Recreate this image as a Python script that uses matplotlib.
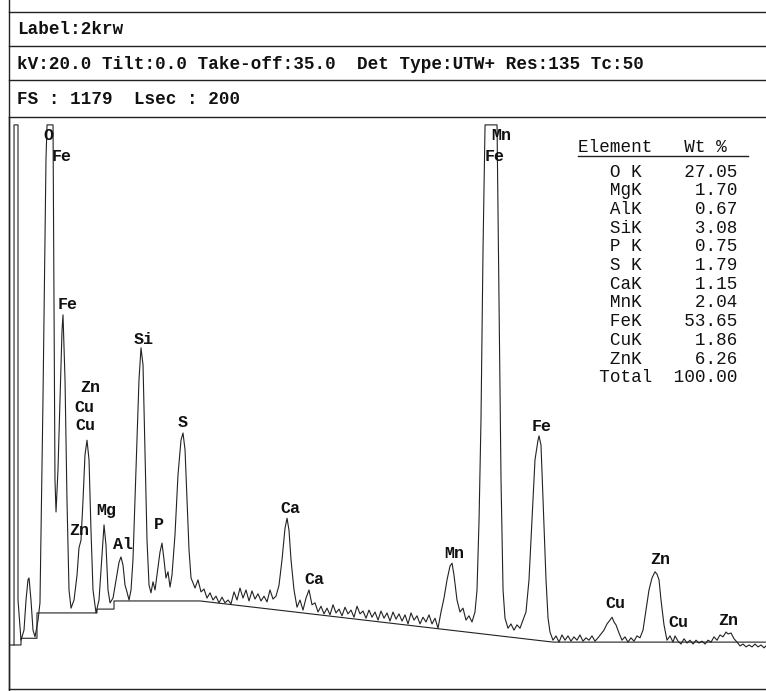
import matplotlib
matplotlib.use("Agg")
from matplotlib import pyplot as plt

# spectrum trace (energy in keV, counts)
energy_kev = [0.067, 0.067, 0.12, 0.12, 0.16, 0.20, 0.227, 0.253, 0.267, 0.293, 0.32, 0.347, 0.387, 0.413,
              0.453, 0.493, 0.507, 0.587, 0.60, 0.613, 0.627, 0.653, 0.68, 0.707, 0.72, 0.747, 0.773, 0.80,
              0.827, 0.867, 0.907, 0.933, 0.96, 0.987, 1.013, 1.04, 1.067, 1.093, 1.12, 1.16, 1.20, 1.24,
              1.267, 1.293, 1.32, 1.347, 1.387, 1.427, 1.467, 1.493, 1.52, 1.547, 1.573, 1.60, 1.627, 1.653,
              1.693, 1.733, 1.76, 1.787, 1.813, 1.84, 1.867, 1.893, 1.92, 1.947, 1.973, 2.013, 2.04, 2.067,
              2.093, 2.12, 2.147, 2.173, 2.213, 2.253, 2.293, 2.32, 2.347, 2.373, 2.40, 2.427, 2.453,
              2.48, 2.52, 2.56, 2.60, 2.64, 2.68, 2.72, 2.76, 2.80, 2.84, 2.88, 2.92, 2.96, 3.00, 3.04, 3.08,
              3.12, 3.16, 3.20, 3.24, 3.28, 3.32, 3.36, 3.40, 3.44, 3.48, 3.52, 3.56, 3.60, 3.64, 3.68, 3.707,
              3.733, 3.76, 3.80, 3.84, 3.88, 3.92, 3.96, 4.00, 4.04, 4.08, 4.12, 4.16, 4.20, 4.24, 4.28, 4.32,
              4.36, 4.40, 4.44, 4.48, 4.52, 4.56, 4.60, 4.64, 4.68, 4.72, 4.76, 4.80, 4.84, 4.88, 4.92, 4.96,
              5.00, 5.04, 5.08, 5.12, 5.16, 5.20, 5.24, 5.28, 5.32, 5.36, 5.40, 5.44, 5.48, 5.52, 5.56, 5.60,
              5.64, 5.68, 5.72, 5.76, 5.80, 5.84, 5.88, 5.907, 5.933, 5.973, 6.013, 6.053, 6.093, 6.133, 6.173,
              6.213, 6.24, 6.267, 6.293, 6.32, 6.347, 6.507, 6.533, 6.56, 6.587, 6.613, 6.653, 6.693, 6.733,
              6.773, 6.813, 6.853, 6.893, 6.933, 6.973, 7.013, 7.053, 7.067, 7.093, 7.12, 7.16, 7.187, 7.213,
              7.253, 7.293, 7.333, 7.373, 7.413, 7.453, 7.493, 7.533, 7.573, 7.613, 7.653, 7.693, 7.733, 7.773,
              7.813, 7.853, 7.893, 7.933, 7.973, 8.013, 8.04, 8.067, 8.093, 8.133, 8.173, 8.213, 8.253, 8.293,
              8.333, 8.373, 8.413, 8.453, 8.493, 8.533, 8.573, 8.613, 8.64, 8.667, 8.693, 8.733, 8.773, 8.813,
              8.853, 8.88, 8.92, 8.96, 9.00, 9.04, 9.08, 9.12, 9.16, 9.20, 9.24, 9.28, 9.32, 9.36, 9.40, 9.44,
              9.48, 9.52, 9.56, 9.587, 9.627, 9.667, 9.707, 9.747, 9.787, 9.827, 9.867, 9.907, 9.947, 9.987,
              10.027, 10.067, 10.093]
counts = [92, 1179, 1179, 186, 102, 123, 186, 228, 232, 186, 123, 109, 144, 180,
          604, 1106, 1179, 1179, 813, 437, 370, 458, 604, 750, 782, 646, 395, 207,
          169, 186, 238, 295, 311, 395, 489, 520, 479, 332, 207, 159, 186, 280,
          343, 301, 207, 180, 190, 228, 265, 276, 259, 217, 203, 186, 207, 270,
          458, 646, 713, 677, 500, 311, 217, 201, 224, 207, 238, 286, 305, 270,
          232, 245, 213, 238, 322, 447, 520, 535, 500, 395, 291, 232, 222,
          211, 228, 203, 209, 190, 201, 186, 194, 180, 192, 180, 186, 178, 203, 186, 211,
          190, 207, 184, 205, 188, 199, 184, 194, 182, 207, 188, 194, 217, 270, 336, 357,
          332, 270, 207, 171, 186, 165, 190, 207, 176, 180, 161, 173, 157, 169, 155, 176,
          159, 167, 153, 171, 157, 165, 150, 173, 157, 163, 148, 165, 150, 161, 144, 163,
          148, 159, 142, 161, 146, 157, 142, 155, 136, 159, 144, 153, 136, 150, 140, 155,
          136, 148, 127, 161, 190, 228, 257, 263, 238, 186, 161, 169, 144, 153, 140,
          161, 207, 353, 562, 918, 1179, 1179, 813, 437, 207, 148, 127, 136, 123,
          134, 127, 144, 161, 228, 353, 479, 520, 529, 510, 395, 228, 148, 119,
          102, 111, 98, 113, 102, 111, 100, 109, 102, 113, 100, 107, 102, 111,
          100, 107, 115, 123, 136, 144, 150, 140, 134, 117, 102, 109, 98, 107,
          100, 111, 107, 123, 165, 207, 232, 245, 240, 228, 186, 134, 102, 111,
          98, 111, 100, 94, 105, 96, 102, 94, 102, 96, 100, 94, 102, 98, 109, 102,
          113, 109, 119, 115, 117, 105, 98, 90, 94, 88, 92, 88, 94, 88,
          92, 86, 90]

# fitted background (stepped, then sloping)
bg_kev = [0.013, 0.16, 0.16, 0.373, 0.373, 1.173, 1.173, 1.40, 1.40, 2.547, 7.253, 10.093]
bg_counts = [92, 92, 106, 106, 159, 159, 167, 167, 184, 184, 98, 98]

# peak labels
label_text = ["O", "Fe", "Fe", "Zn", "Cu", "Cu", "Si", "S", "Mg", "Zn", "Al", "P", "Ca", "Ca",
              "Mn", "Mn", "Fe", "Fe", "Cu", "Zn", "Cu", "Zn"]
label_kev = [0.52, 0.707, 0.78, 1.08, 1.0, 1.02, 1.80, 2.31, 1.30, 0.933, 1.52, 2.0, 3.747, 4.067,
             5.933, 6.56, 6.48, 7.107, 8.08, 8.68, 8.92, 9.587]
label_counts = [1156, 1112, 803, 631, 589, 550, 730, 556, 374, 332, 301, 343, 378, 228,
                284, 1156, 1112, 548, 178, 270, 140, 144]

# quantification table
elements = ["O K", "MgK", "AlK", "SiK", "P K", "S K", "CaK", "MnK", "FeK", "CuK", "ZnK", "Total"]
wt_pct = [27.05, 1.70, 0.67, 3.08, 0.75, 1.79, 1.15, 2.04, 53.65, 1.86, 6.26, 100.00]

header_lines = ["Label:2krw",
                "kV:20.0 Tilt:0.0 Take-off:35.0  Det Type:UTW+ Res:135 Tc:50",
                "FS : 1179  Lsec : 200"]

ink = "#222222"
mono = "Liberation Mono"

fig = plt.figure(figsize=(7.66, 6.91), dpi=100)

# page layer in pixel coordinates for the printed frame and header
page = fig.add_axes([0, 0, 1, 1])
page.set_xlim(0, 766)
page.set_ylim(691, 0)
page.axis("off")
page.plot([9, 9], [0, 691], color=ink, lw=1.0)
for yy in [12, 46, 80]:
    page.plot([9, 766], [yy, yy], color=ink, lw=1.0)
for i, line in enumerate(header_lines):
    page.text(17, 29 + 35 * i, line, family=mono, weight="bold", fontsize=12.7,
              ha="left", va="center", color="#111111")

# spectrum
ax = fig.add_axes([9 / 766, 2 / 691, 757 / 766, 572 / 691])
ax.plot(energy_kev, counts, color=ink, lw=0.8)
ax.plot(bg_kev, bg_counts, color=ink, lw=0.8)
ax.set_xlim(0, 10.093)
ax.set_ylim(0, 1195.5)
ax.set_xticks([])
ax.set_yticks([])
ax.patch.set_alpha(0)
for side in ["left", "bottom", "top"]:
    ax.spines[side].set_color(ink)
    ax.spines[side].set_linewidth(1.0)
ax.spines["right"].set_visible(False)

for t, e, c in zip(label_text, label_kev, label_counts):
    ax.text(e, c, t, family=mono, weight="bold", fontsize=12, ha="center", va="center",
            color="#111111")

# table, top right
page.text(578, 147, "Element   Wt %", family=mono, fontsize=12.7, ha="left", va="center",
          color="#111111")
page.plot([578, 748], [156, 156], color=ink, lw=1.0)
for i, (el, w) in enumerate(zip(elements, wt_pct)):
    page.text(578, 172 + 18.7 * i, f"{el:^9}{w:6.2f}", family=mono, fontsize=12.7,
              ha="left", va="center", color="#111111")

fig.savefig("out.png", dpi=100)
